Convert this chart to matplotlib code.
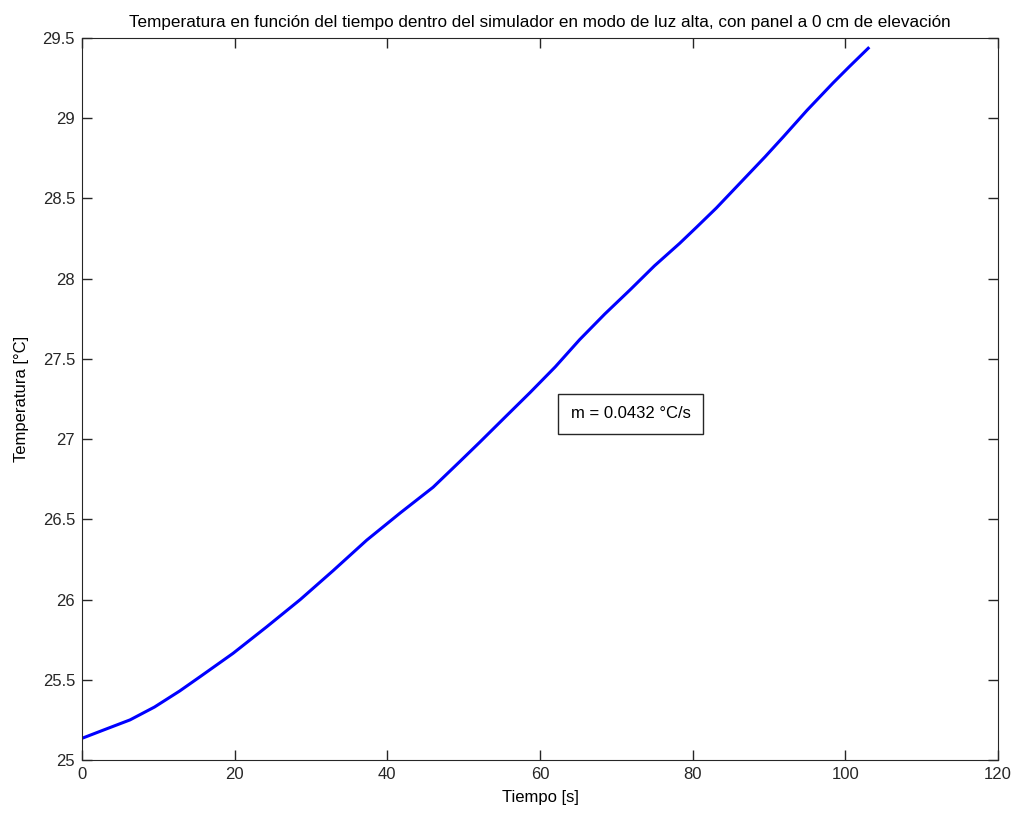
import matplotlib
matplotlib.use('Agg')
import matplotlib.pyplot as plt

# Temperature readings
tiempo = [0, 3, 6.3, 9.5, 12.8, 15.5, 19.8, 24.2, 28.6, 32.9, 37.3, 41.7, 46.0, 49.5, 52.1, 55.5,
          58.7, 62, 65.2, 68.5, 71.8, 75, 78.3, 80.5, 83.1, 85.5, 87.5, 89.5, 91.9, 95, 98.4, 100.5, 103]
temperatura = [25.135, 25.19, 25.25, 25.33, 25.43, 25.52, 25.665, 25.83, 26.0, 26.18, 26.37, 26.54,
               26.70, 26.86, 26.98, 27.14, 27.29, 27.45, 27.62, 27.78, 27.93, 28.08,
               28.22, 28.32, 28.44, 28.56, 28.66, 28.76, 28.885, 29.05, 29.22, 29.32, 29.436]

x_ticks = [0, 20, 40, 60, 80, 100, 120]
y_ticks = [25, 25.5, 26, 26.5, 27, 27.5, 28, 28.5, 29, 29.5]
y_ticklabels = ['25', '25.5', '26', '26.5', '27', '27.5', '28', '28.5', '29', '29.5']

plt.rcParams['font.family'] = ['Liberation Sans', 'DejaVu Sans']

fig = plt.figure(figsize=(10.17, 8.13), dpi=100)
ax = fig.add_axes([0.0806, 0.0652, 0.9007, 0.8881])

ax.plot(tiempo, temperatura, color='#0000ff', linewidth=2.2)

ax.set_xlim(0, 120)
ax.set_ylim(25, 29.5)
ax.set_xticks(x_ticks)
ax.set_yticks(y_ticks)
ax.set_yticklabels(y_ticklabels)
ax.tick_params(direction='in', length=7, width=1, top=True, right=True, labelsize=12,
               colors='#262626', pad=5)
for s in ax.spines.values():
    s.set_color('#262626')

ax.set_title('Temperatura en función del tiempo dentro del simulador en modo de luz alta, con panel a 0 cm de elevación',
             fontsize=12.3, pad=8)
ax.set_xlabel('Tiempo [s]', fontsize=12, labelpad=6)
ax.set_ylabel('Temperatura [°C]', fontsize=12, labelpad=10)

ax.text(71.9, 27.157, 'm = 0.0432 °C/s', fontsize=12, ha='center', va='center',
        bbox=dict(boxstyle='square,pad=0.75', facecolor='white', edgecolor='#262626', linewidth=1))

fig.savefig('out.png', dpi=100)
